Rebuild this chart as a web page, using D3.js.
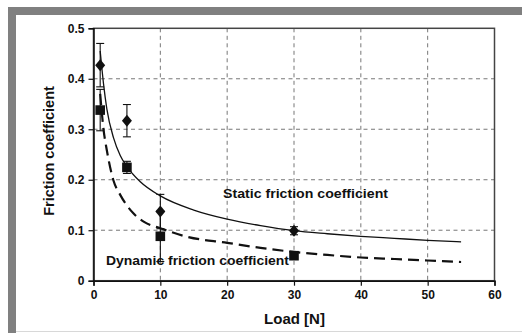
<!DOCTYPE html>
<html>
<head>
<meta charset="utf-8">
<script src="https://cdn.jsdelivr.net/npm/d3@7"></script>
<style>
  html, body { margin: 0; padding: 0; background: #fff; }
  svg { display: block; font-family: Arial, "Liberation Sans", sans-serif; }
</style>
</head>
<body>
<svg id="chart" width="522" height="333"></svg>
<script>
// Measured friction coefficients vs. normal load
const loads = [1, 5, 10, 30];
const staticMean = [0.427, 0.317, 0.137, 0.099];
const staticErr = [0.043, 0.032, 0.034, 0.008];
const dynamicMean = [0.338, 0.2245, 0.088, 0.0495];
const dynamicErr = [0.041, 0.012, 0.05, 0.004];

// Trend curves (load, coefficient)
const staticTrendX = [1, 1.5, 2, 3, 4, 5, 7, 10, 15, 20, 25, 30, 35, 40, 45, 50, 55];
const staticTrendY = [0.455, 0.39, 0.34, 0.283, 0.248, 0.226, 0.196, 0.168, 0.140, 0.122, 0.109, 0.099, 0.093, 0.088, 0.084, 0.080, 0.077];
const dynamicTrendX = [1, 1.5, 2, 3, 4, 5, 6, 7.5, 10, 14, 20, 25, 30, 35, 40, 45, 50, 55];
const dynamicTrendY = [0.37, 0.30, 0.258, 0.198, 0.17, 0.149, 0.133, 0.117, 0.104, 0.087, 0.075, 0.065, 0.057, 0.051, 0.046, 0.043, 0.040, 0.037];

const xTicks = [0, 10, 20, 30, 40, 50, 60];
const yTicks = [0, 0.1, 0.2, 0.3, 0.4, 0.5];

const svg = d3.select("#chart");
const W = 522, H = 333;

// Page frame
svg.append("rect").attr("x", 0).attr("y", 0).attr("width", W).attr("height", H).attr("fill", "#fff");
svg.append("rect").attr("x", 8).attr("y", 7).attr("width", W - 8).attr("height", 8).attr("fill", "#808080");
svg.append("rect").attr("x", 8).attr("y", 7).attr("width", 8).attr("height", H - 7).attr("fill", "#808080");
svg.append("line").attr("x1", 16).attr("x2", W).attr("y1", 331.5).attr("y2", 331.5)
  .attr("stroke", "#d8d8d8").attr("stroke-width", 1);

const plot = { left: 93.5, right: 494.5, top: 28.3, bottom: 280.7 };
const x = d3.scaleLinear().domain([0, 60]).range([plot.left, plot.right]);
const y = d3.scaleLinear().domain([0, 0.5]).range([plot.bottom, plot.top]);

// Gridlines
const grid = svg.append("g");
grid.selectAll(".gx").data(xTicks.filter(d => d > 0 && d < 60)).join("line")
  .attr("x1", d => x(d)).attr("x2", d => x(d)).attr("y1", plot.top).attr("y2", plot.bottom)
  .attr("stroke", "#777").attr("stroke-width", 1).attr("stroke-dasharray", "4,3.5");
grid.selectAll(".gy").data(yTicks.filter(d => d > 0 && d < 0.5)).join("line")
  .attr("x1", plot.left).attr("x2", plot.right).attr("y1", d => y(d)).attr("y2", d => y(d))
  .attr("stroke", "#777").attr("stroke-width", 1).attr("stroke-dasharray", "4,3.5");

// Plot box
svg.append("rect").attr("x", plot.left).attr("y", plot.top)
  .attr("width", plot.right - plot.left).attr("height", plot.bottom - plot.top)
  .attr("fill", "none").attr("stroke", "#444").attr("stroke-width", 1.5);

// Axes
const xAxis = svg.append("g").attr("transform", `translate(0,${plot.bottom})`)
  .call(d3.axisBottom(x).tickValues(xTicks).tickSize(5).tickPadding(5).tickFormat(d3.format("d")));
const yAxis = svg.append("g").attr("transform", `translate(${plot.left},0)`)
  .call(d3.axisLeft(y).tickValues(yTicks).tickSize(5).tickPadding(4).tickFormat(d => d === 0 ? "0" : d3.format(".1f")(d)));
[xAxis, yAxis].forEach(a => {
  a.select(".domain").attr("stroke", "#111").attr("stroke-width", 1.5);
  a.selectAll(".tick line").attr("stroke", "#111").attr("stroke-width", 1.2);
  a.selectAll(".tick text").attr("fill", "#111").attr("font-size", 12).attr("font-weight", "bold")
    .attr("font-family", "Arial, 'Liberation Sans', sans-serif");
});

// Trend curves
const line = d3.line().x(d => x(d[0])).y(d => y(d[1])).curve(d3.curveMonotoneX);
svg.append("path").datum(staticTrendX.map((v, i) => [v, staticTrendY[i]]))
  .attr("d", line).attr("fill", "none").attr("stroke", "#111").attr("stroke-width", 1.3);
svg.append("path").datum(dynamicTrendX.map((v, i) => [v, dynamicTrendY[i]]))
  .attr("d", line).attr("fill", "none").attr("stroke", "#111").attr("stroke-width", 2.2)
  .attr("stroke-dasharray", "11,6");

// Error bars
function errorBars(means, errs) {
  const g = svg.append("g").attr("stroke", "#111").attr("stroke-width", 1.1);
  loads.forEach((l, i) => {
    const cx = x(l), y1 = y(means[i] + errs[i]), y2 = y(means[i] - errs[i]);
    g.append("line").attr("x1", cx).attr("x2", cx).attr("y1", y1).attr("y2", y2);
    g.append("line").attr("x1", cx - 4).attr("x2", cx + 4).attr("y1", y1).attr("y2", y1);
    g.append("line").attr("x1", cx - 4).attr("x2", cx + 4).attr("y1", y2).attr("y2", y2);
  });
}
errorBars(staticMean, staticErr);
errorBars(dynamicMean, dynamicErr);

// Markers
svg.append("g").selectAll("path").data(loads).join("path")
  .attr("transform", (d, i) => `translate(${x(d)},${y(staticMean[i])})`)
  .attr("d", "M0,-6L5,0L0,6L-5,0Z").attr("fill", "#111");
svg.append("g").selectAll("rect").data(loads).join("rect")
  .attr("x", d => x(d) - 4.8).attr("y", (d, i) => y(dynamicMean[i]) - 4.8)
  .attr("width", 9.6).attr("height", 9.6).attr("fill", "#111");

// Series labels
svg.append("text").attr("x", 223).attr("y", 198).attr("font-size", 12.5).attr("font-weight", "bold")
  .attr("fill", "#111").attr("textLength", 165).attr("lengthAdjust", "spacingAndGlyphs")
  .text("Static friction coefficient");
svg.append("text").attr("x", 106).attr("y", 265).attr("font-size", 12.5).attr("font-weight", "bold")
  .attr("fill", "#111").attr("textLength", 183).attr("lengthAdjust", "spacingAndGlyphs")
  .text("Dynamic friction coefficient");

// Axis titles
svg.append("text").attr("x", 294.5).attr("y", 324).attr("text-anchor", "middle")
  .attr("font-size", 15).attr("font-weight", "bold").attr("fill", "#111").text("Load [N]");
svg.append("text").attr("transform", "translate(54,151) rotate(-90)").attr("text-anchor", "middle")
  .attr("font-size", 14.5).attr("font-weight", "bold").attr("fill", "#111").text("Friction coefficient");
</script>
</body>
</html>
